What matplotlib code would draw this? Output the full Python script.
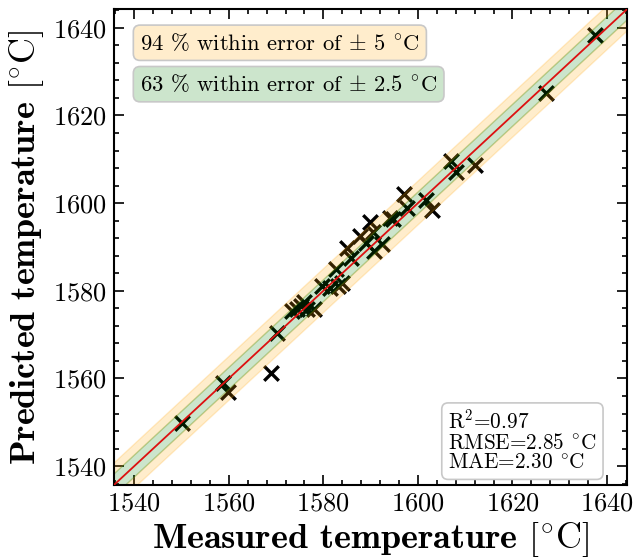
import numpy as np
import matplotlib
matplotlib.use("Agg")
import matplotlib.pyplot as plt
from matplotlib.ticker import MultipleLocator

plt.rcParams['font.family'] = 'serif'
plt.rcParams['font.serif'] = ['cmr10']
plt.rcParams['mathtext.fontset'] = 'cm'
plt.rcParams['axes.formatter.use_mathtext'] = True

measured = [1550.0, 1558.8, 1559.8, 1569.0, 1570.3, 1573.4, 1574.5, 1575.3, 1576.0,
            1576.6, 1578.0, 1579.8, 1581.4, 1582.6, 1583.2, 1584.0, 1585.0, 1585.8,
            1587.8, 1589.0, 1589.9, 1590.5, 1590.8, 1592.5, 1594.0, 1594.8, 1597.0,
            1597.8, 1601.8, 1603.0, 1607.0, 1608.0, 1612.0, 1627.0, 1637.5]
predicted = [1549.8, 1559.0, 1556.8, 1561.3, 1570.3, 1575.5, 1575.8, 1576.6, 1577.5,
             1575.8, 1575.8, 1581.2, 1580.6, 1585.0, 1581.2, 1581.8, 1589.8, 1587.5,
             1592.4, 1591.0, 1595.6, 1593.3, 1589.0, 1590.6, 1596.6, 1596.3, 1602.0,
             1599.0, 1600.8, 1598.4, 1609.6, 1607.2, 1608.6, 1625.2, 1638.3]
lims = (1535.7, 1644.3)

deg = '$^{\\circ}$C'

fig = plt.figure(figsize=(6.33, 5.6), dpi=100)
ax = fig.add_axes([0.180, 0.134, 0.811, 0.850])

ax.scatter(measured, predicted, marker='x', s=110, linewidths=2.4, color='black', zorder=1)

line = np.array([1500, 1700])
ax.fill_between(line, line + 2.5, line + 5, color='orange', alpha=0.2, zorder=2)
ax.fill_between(line, line - 5, line - 2.5, color='orange', alpha=0.2, zorder=2)
ax.fill_between(line, line - 2.5, line + 2.5, color='green', alpha=0.2, zorder=2)
ax.plot(line, line, color='#dd1111', lw=1.3, zorder=3)

ax.set_xlim(lims)
ax.set_ylim(lims)

ax.xaxis.set_major_locator(MultipleLocator(20))
ax.yaxis.set_major_locator(MultipleLocator(20))
ax.xaxis.set_minor_locator(MultipleLocator(4))
ax.yaxis.set_minor_locator(MultipleLocator(4))
ax.tick_params(which='both', direction='in', top=True, right=True, labelsize=19, width=1.2)
ax.tick_params(which='major', length=7, pad=5)
ax.tick_params(which='minor', length=3.5)
for s in ax.spines.values():
    s.set_linewidth(1.5)

ax.set_xlabel('Measured temperature $[^{\\circ}\\mathrm{C}]$', fontfamily='cmb10', fontsize=26, labelpad=3)
ax.set_ylabel('Predicted temperature $[^{\\circ}\\mathrm{C}]$', fontfamily='cmb10', fontsize=26, labelpad=5)

ax.text(0.051, 0.929, '94 % within error of $\\pm$ 5 ' + deg, transform=ax.transAxes,
        fontsize=16.3, va='center',
        bbox=dict(boxstyle='round,pad=0.3', fc=(1, 0.647, 0, 0.2), ec='#c8c8c8', lw=1.2))
ax.text(0.051, 0.842, '63 % within error of $\\pm$ 2.5 ' + deg, transform=ax.transAxes,
        fontsize=16.3, va='center',
        bbox=dict(boxstyle='round,pad=0.3', fc=(0, 0.5, 0, 0.2), ec='#c8c8c8', lw=1.2))
ax.text(0.651, 0.092, 'R$^2$=0.97\nRMSE=2.85 ' + deg + '\nMAE=2.30 ' + deg, transform=ax.transAxes,
        fontsize=15.3, va='center', linespacing=1.02,
        bbox=dict(boxstyle='round,pad=0.3', fc='white', ec='#c8c8c8', lw=1.2))

fig.savefig('out.png', dpi=100)
